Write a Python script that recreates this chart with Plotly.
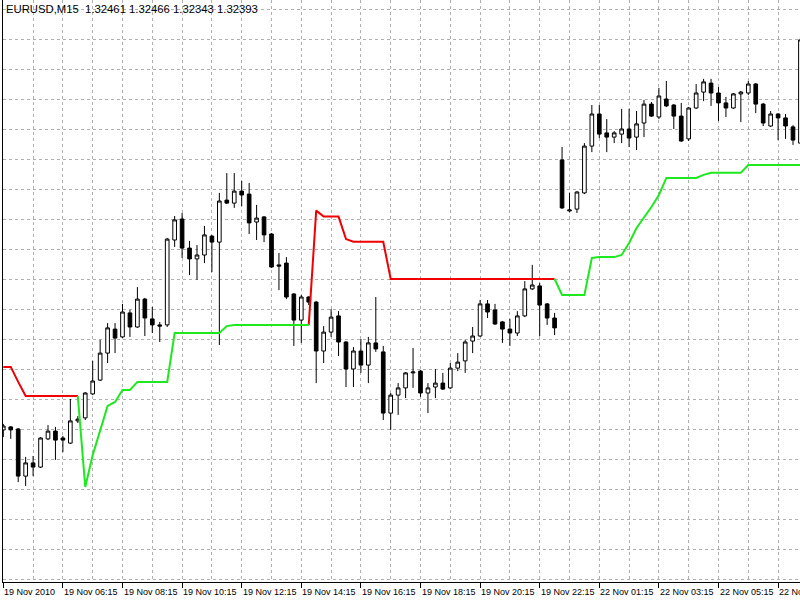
import plotly.graph_objects as go

# ---- data (EURUSD M15, bar index 0..107) ----
open_ = [1.31697,1.31707,1.31700,1.31543,1.31587,1.31573,1.31667,1.31693,1.31670,1.31653,
         1.31727,1.31737,1.31817,1.31863,1.31953,1.32033,1.32007,1.32087,1.32040,1.32133,
         1.32067,1.32047,1.32047,1.32330,1.32400,1.32303,1.32267,1.32280,1.32343,1.32323,
         1.32463,1.32453,1.32493,1.32483,1.32390,1.32407,1.32350,1.32247,1.32253,1.32150,
         1.32063,1.32140,1.32123,1.31960,1.32023,1.32077,1.31990,1.31900,1.31960,1.31913,
         1.31987,1.31957,1.31753,1.31813,1.31837,1.31887,1.31893,1.31820,1.31840,1.31853,
         1.31837,1.31903,1.31927,1.31993,1.32010,1.32117,1.32097,1.32057,1.32033,1.32020,
         1.32077,1.32167,1.32177,1.32117,1.32070,1.32597,1.32427,1.32433,1.32487,1.32643,
         1.32750,1.32687,1.32673,1.32683,1.32700,1.32673,1.32720,1.32783,1.32740,1.32800,
         1.32780,1.32743,1.32667,1.32770,1.32823,1.32853,1.32820,1.32787,1.32770,1.32817,
         1.32820,1.32850,1.32783,1.32710,1.32750,1.32737,1.32707,1.32653]
high_ = [1.31717,1.31710,1.31703,1.31607,1.31610,1.31673,1.31713,1.31707,1.31677,1.31800,
         1.31743,1.31823,1.31927,1.31997,1.32053,1.32053,1.32117,1.32097,1.32173,1.32137,
         1.32107,1.32057,1.32337,1.32410,1.32420,1.32327,1.32313,1.32377,1.32347,1.32487,
         1.32553,1.32553,1.32527,1.32520,1.32447,1.32410,1.32353,1.32287,1.32273,1.32153,
         1.32147,1.32143,1.32127,1.32043,1.32100,1.32093,1.31993,1.31973,1.32000,1.32007,
         1.32140,1.31977,1.31820,1.31853,1.31890,1.31970,1.31897,1.31853,1.31900,1.31887,
         1.31920,1.31953,1.31997,1.32040,1.32130,1.32130,1.32117,1.32060,1.32067,1.32093,
         1.32193,1.32247,1.32187,1.32120,1.32087,1.32640,1.32487,1.32493,1.32653,1.32780,
         1.32780,1.32733,1.32693,1.32767,1.32767,1.32760,1.32797,1.32790,1.32837,1.32860,
         1.32783,1.32787,1.32773,1.32850,1.32867,1.32867,1.32840,1.32807,1.32820,1.32827,
         1.32860,1.32853,1.32787,1.32760,1.32753,1.32750,1.32713,1.33007]
low_ = [1.31673,1.31667,1.31523,1.31510,1.31543,1.31570,1.31663,1.31597,1.31623,1.31650,
        1.31720,1.31730,1.31813,1.31860,1.31920,1.31953,1.32003,1.32007,1.32037,1.32010,
        1.32020,1.31990,1.32040,1.32307,1.32270,1.32213,1.32197,1.32253,1.32223,1.31980,
        1.32450,1.32437,1.32443,1.32350,1.32330,1.32323,1.32237,1.32163,1.32133,1.31977,
        1.31987,1.32113,1.31853,1.31920,1.32007,1.31943,1.31840,1.31840,1.31887,1.31853,
        1.31957,1.31730,1.31697,1.31747,1.31803,1.31837,1.31807,1.31753,1.31803,1.31830,
        1.31833,1.31893,1.31887,1.31953,1.32007,1.32070,1.32047,1.31987,1.31977,1.32010,
        1.32073,1.32163,1.32010,1.32047,1.32013,1.32433,1.32423,1.32420,1.32483,1.32623,
        1.32670,1.32623,1.32653,1.32653,1.32640,1.32630,1.32673,1.32740,1.32733,1.32773,
        1.32700,1.32657,1.32660,1.32767,1.32793,1.32777,1.32727,1.32740,1.32767,1.32723,
        1.32813,1.32753,1.32710,1.32707,1.32663,1.32667,1.32647,1.32650]
close_ = [1.31710,1.31697,1.31543,1.31587,1.31573,1.31670,1.31693,1.31663,1.31663,1.31727,
          1.31733,1.31820,1.31860,1.31953,1.32037,1.32003,1.32090,1.32040,1.32133,1.32070,
          1.32047,1.32043,1.32333,1.32397,1.32303,1.32267,1.32280,1.32347,1.32323,1.32460,
          1.32453,1.32493,1.32480,1.32387,1.32403,1.32347,1.32240,1.32243,1.32140,1.32063,
          1.32140,1.32123,1.31960,1.32023,1.32073,1.31990,1.31900,1.31960,1.31913,1.31987,
          1.31967,1.31753,1.31813,1.31837,1.31887,1.31890,1.31820,1.31837,1.31853,1.31833,
          1.31903,1.31923,1.31990,1.32010,1.32117,1.32090,1.32050,1.32033,1.32020,1.32077,
          1.32167,1.32180,1.32113,1.32070,1.32037,1.32437,1.32430,1.32490,1.32643,1.32750,
          1.32683,1.32673,1.32687,1.32700,1.32670,1.32717,1.32783,1.32743,1.32810,1.32777,
          1.32743,1.32660,1.32770,1.32820,1.32857,1.32820,1.32787,1.32770,1.32817,1.32823,
          1.32850,1.32783,1.32720,1.32750,1.32737,1.32710,1.32663,1.32997]

N = len(open_)
bars = list(range(N))

# trailing-stop style indicator: red (down) and green (up) buffers
red_line = ([1.31907, 1.31907, 1.31857] + [1.31810] * 8 + [None] * 30 +
            [1.32047, 1.32428, 1.32408, 1.32408, 1.32408, 1.32333] +
            [1.32324] * 5 + [1.32200] * 23 + [None] * 33)
green_line = ([None] * 10 +
              [1.31810, 1.31507, 1.31613, 1.31697, 1.31777, 1.31790, 1.31830, 1.31830] +
              [1.31857] * 5 + [1.32020] * 7 + [1.32043] + [1.32047] * 11 +
              [None] * 32 +
              [1.32200] + [1.32147] * 4 + [1.32270] + [1.32273] * 3 +
              [1.32280, 1.32320, 1.32370, 1.32403, 1.32440, 1.32480] +
              [1.32537] * 5 + [1.32547] + [1.32554] * 5 + [1.32580] * 8)

tick_bars = list(range(0, 105, 8))
tick_labels = ["19 Nov 2010", "19 Nov 06:15", "19 Nov 08:15", "19 Nov 10:15",
               "19 Nov 12:15", "19 Nov 14:15", "19 Nov 16:15", "19 Nov 18:15",
               "19 Nov 20:15", "19 Nov 22:15", "22 Nov 01:15", "22 Nov 03:15",
               "22 Nov 05:15", "22 Nov 07:15"]
minor_bars = list(range(4, 108, 8))
title_text = "EURUSD,M15\u00a0\u00a01.32461 1.32466 1.32343 1.32393"

GRID = "#b0b0b0"
FONT = "Liberation Sans"

fig = go.Figure()
fig.add_trace(go.Candlestick(
    x=bars, open=open_, high=high_, low=low_, close=close_,
    increasing=dict(line=dict(color="black", width=1), fillcolor="white"),
    decreasing=dict(line=dict(color="black", width=1), fillcolor="black"),
    whiskerwidth=0, hoverinfo="skip", showlegend=False))
fig.add_trace(go.Scatter(x=bars, y=red_line, mode="lines",
                         line=dict(color="#f00000", width=2),
                         connectgaps=False, showlegend=False, hoverinfo="skip"))
fig.add_trace(go.Scatter(x=bars, y=green_line, mode="lines",
                         line=dict(color="#1ee81e", width=2),
                         connectgaps=False, showlegend=False, hoverinfo="skip"))

for b, lab in zip(tick_bars, tick_labels):
    fig.add_annotation(x=b, y=0, xref="x", yref="paper", text=lab,
                       showarrow=False, xanchor="left", yanchor="top",
                       xshift=-1, yshift=-3,
                       font=dict(family=FONT, size=9, color="black"))

fig.add_annotation(x=0, y=1, xref="paper", yref="paper", text=title_text,
                   showarrow=False, xanchor="left", yanchor="top",
                   xshift=1, yshift=-1,
                   font=dict(family=FONT, size=11.3, color="black"))

fig.update_layout(
    width=800, height=600,
    margin=dict(l=3, r=0, t=0, b=18),
    paper_bgcolor="white", plot_bgcolor="white",
    showlegend=False,
    xaxis=dict(range=[-0.04, 106.94], tickmode="array", tickvals=tick_bars,
               showticklabels=False, ticks="outside", ticklen=5,
               tickcolor="black", tickwidth=1,
               showgrid=True, gridcolor=GRID, griddash="3px,3px", gridwidth=1,
               minor=dict(tickmode="array", tickvals=minor_bars, showgrid=True,
                          gridcolor=GRID, griddash="3px,3px", ticks=""),
               showline=True, linecolor="black", linewidth=1,
               zeroline=False, rangeslider=dict(visible=False), fixedrange=True),
    yaxis=dict(range=[1.31190, 1.33130], tickmode="linear", tick0=1.3150,
               dtick=0.001, showticklabels=False, ticks="",
               showgrid=True, gridcolor=GRID, griddash="3px,3px", gridwidth=1,
               showline=True, linecolor="black", linewidth=1,
               zeroline=False, fixedrange=True),
)

fig.write_html("out.html")
